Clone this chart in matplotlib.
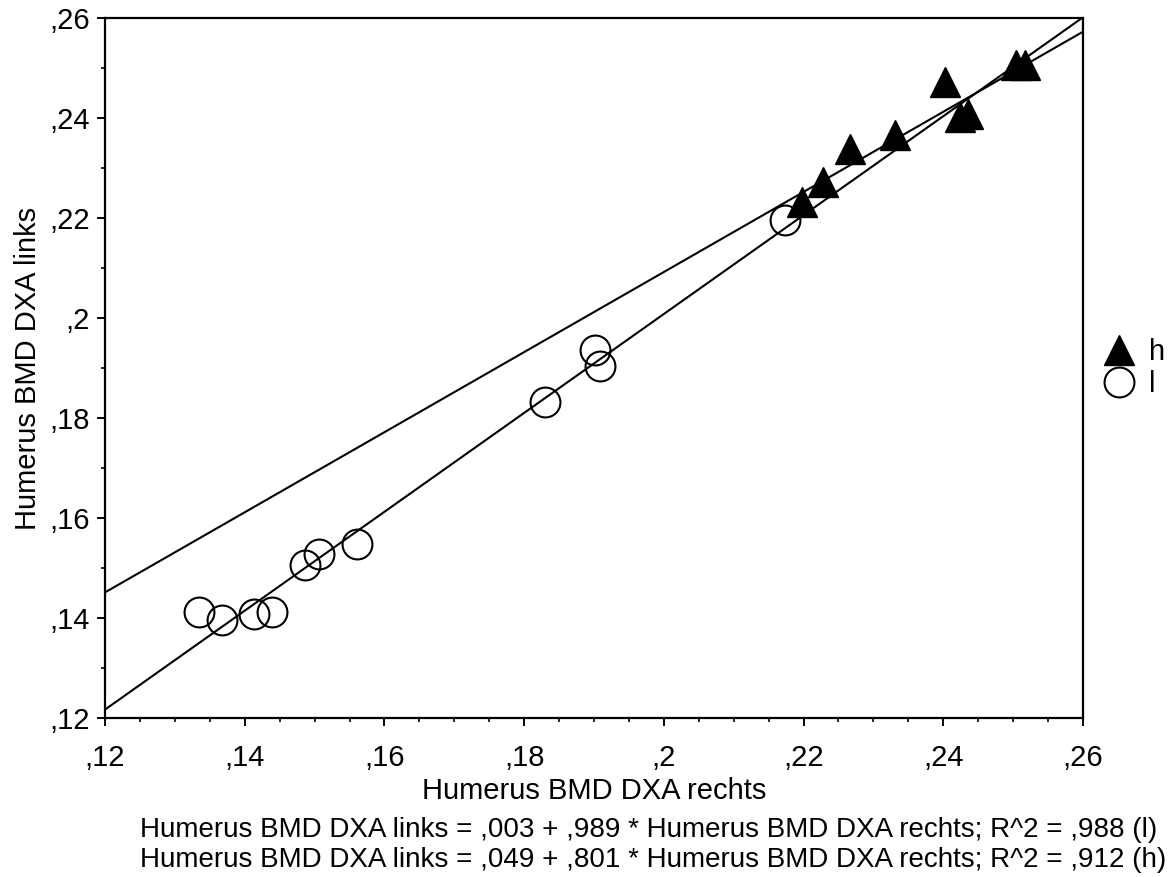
import matplotlib
matplotlib.use("Agg")
import matplotlib.pyplot as plt
from matplotlib.ticker import FixedLocator, FixedFormatter, MultipleLocator

plt.rcParams['font.family'] = ['Liberation Sans', 'DejaVu Sans']

# ---- data ----
l_x = [0.1334, 0.1367, 0.1414, 0.1439, 0.1487, 0.1506, 0.1561, 0.1830, 0.1902, 0.1909, 0.2174]
l_y = [0.1412, 0.1396, 0.1408, 0.1412, 0.1506, 0.1528, 0.1548, 0.1832, 0.1936, 0.1904, 0.2196]

h_x = [0.2198, 0.2228, 0.2267, 0.2331, 0.2403, 0.2424, 0.2435, 0.2504, 0.2517]
h_y = [0.2233, 0.2273, 0.2339, 0.2366, 0.2473, 0.2403, 0.2408, 0.2507, 0.2507]

l_fit = (0.003, 0.989)   # intercept, slope
h_fit = (0.049, 0.801)

tick_vals = [0.12, 0.14, 0.16, 0.18, 0.20, 0.22, 0.24, 0.26]
tick_labels = [",12", ",14", ",16", ",18", ",2", ",22", ",24", ",26"]

x_label = "Humerus BMD DXA rechts"
y_label = "Humerus BMD DXA links"
eq_lines = [
    "Humerus BMD DXA links = ,003 + ,989 * Humerus BMD DXA rechts; R^2 = ,988 (l)",
    "Humerus BMD DXA links = ,049 + ,801 * Humerus BMD DXA rechts; R^2 = ,912 (h)",
]

W, H = 1176, 877
fig = plt.figure(figsize=(W / 100, H / 100), dpi=100)
ax = fig.add_axes([105 / W, 1 - 718 / H, (1083 - 105) / W, (718 - 18) / H])

lw = 1.5
xr = [0.12, 0.26]
ax.plot(xr, [l_fit[0] + l_fit[1] * v for v in xr], color='black', lw=lw, zorder=2)
ax.plot(xr, [h_fit[0] + h_fit[1] * v for v in xr], color='black', lw=lw, zorder=2)

hs = ax.plot(h_x, h_y, linestyle='none', marker='^', markersize=22,
             markerfacecolor='black', markeredgecolor='black', label='h', zorder=3)[0]
ls = ax.plot(l_x, l_y, linestyle='none', marker='o', markersize=21.5,
             markerfacecolor='none', markeredgecolor='black', markeredgewidth=1.5,
             label='l', zorder=3)[0]

ax.set_xlim(0.12, 0.26)
ax.set_ylim(0.12, 0.26)
for a in (ax.xaxis, ax.yaxis):
    a.set_major_locator(FixedLocator(tick_vals))
    a.set_major_formatter(FixedFormatter(tick_labels))
ax.xaxis.set_minor_locator(MultipleLocator(0.005))
ax.yaxis.set_minor_locator(MultipleLocator(0.01))
ax.tick_params(which='major', direction='out', length=6, width=1.4, labelsize=21)
ax.tick_params(axis='x', which='major', pad=13)
ax.tick_params(axis='y', which='major', pad=5)
ax.tick_params(which='minor', direction='out', length=3, width=1.2)
for s in ax.spines.values():
    s.set_linewidth(1.6)

ax.set_xlabel(x_label, fontsize=21, labelpad=3)
ax.set_ylabel(y_label, fontsize=21, labelpad=5)

leg = fig.legend(handles=[hs, ls], loc='center left',
                 bbox_to_anchor=(1104 / W, 1 - 368 / H), frameon=False,
                 fontsize=21, handlelength=1.0, handletextpad=0.55,
                 labelspacing=0.15, borderpad=0, borderaxespad=0)

fig.text(140 / W, 1 - 830 / H, eq_lines[0], fontsize=20, ha='left', va='center')
fig.text(140 / W, 1 - 860 / H, eq_lines[1], fontsize=20, ha='left', va='center')

fig.savefig("out.png", dpi=100, facecolor='white')
